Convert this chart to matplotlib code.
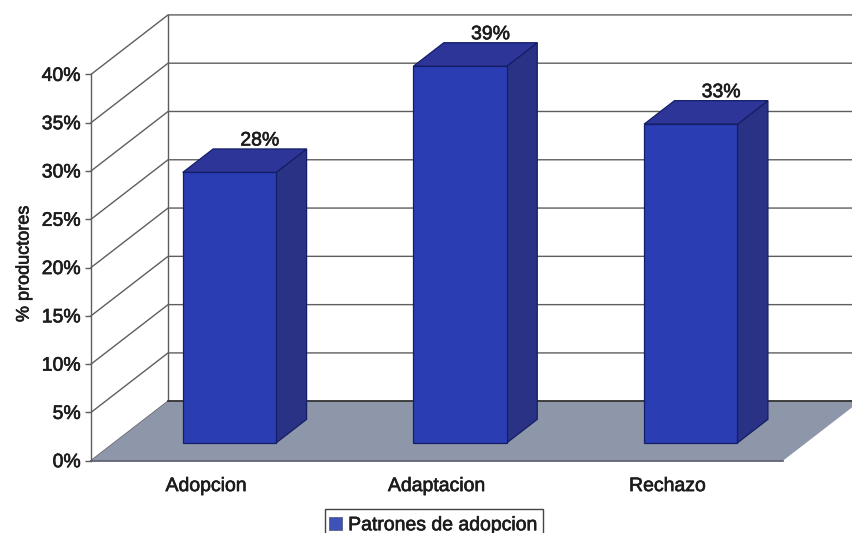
import matplotlib
matplotlib.use("Agg")
import matplotlib.pyplot as plt
import matplotlib.patheffects as pe
from matplotlib.patches import Polygon, Rectangle

plt.rcParams['font.family'] = ['Liberation Sans', 'DejaVu Sans']

# Data
categories = ["Adopcion", "Adaptacion", "Rechazo"]
values = [28, 39, 33]
y_ticks = [0, 5, 10, 15, 20, 25, 30, 35, 40]
y_tick_labels = ["0%", "5%", "10%", "15%", "20%", "25%", "30%", "35%", "40%"]
y_label = "% productores"
legend_label = "Patrones de adopcion"

# Oblique projection: how far the back wall sits from the front plane, in data units
WALL_DX = 0.334
WALL_DY = 6.16
BAR_WIDTH = 0.405
BAR_DEPTH_START = 0.30
BAR_DEPTH = 0.395

FRONT = "#2A3DB2"
TOP = "#2E3598"
SIDE = "#2A3285"
EDGE = "#141E66"
FLOOR = "#8E97A9"
GRID = "#5E5E5E"
TEXT = "#1C1C1C"
HEAVY = [pe.withStroke(linewidth=0.45, foreground=TEXT)]

W, H = 853, 533
fig = plt.figure(figsize=(W / 100, H / 100), dpi=100, facecolor="white")
ax = fig.add_axes([91 / W, (H - 460.7) / H, (783 - 91) / W, (460.7 - 74.4) / H])
ax.patch.set_visible(False)
ax.set_xlim(0, len(categories))
ax.set_ylim(0, 40)


def project(x, y, depth):
    return (x + depth * WALL_DX, y + depth * WALL_DY)


# Back wall and side wall rules
for t in y_ticks:
    ax.plot([0, WALL_DX, len(categories) + WALL_DX], [t, t + WALL_DY, t + WALL_DY],
            color=GRID, lw=1.0, clip_on=False, zorder=1)
ax.plot([WALL_DX, WALL_DX], [WALL_DY, 40 + WALL_DY], color=GRID, lw=1.0,
        clip_on=False, zorder=1)

# Floor
floor = Polygon([project(0, 0, 0), project(len(categories), 0, 0),
                 project(len(categories), 0, 1), project(0, 0, 1)],
                closed=True, facecolor=FLOOR, edgecolor="none", clip_on=False, zorder=2)
ax.add_patch(floor)
ax.plot([WALL_DX, len(categories) + WALL_DX], [WALL_DY, WALL_DY], color="#2E2E2E", lw=1.2,
        clip_on=False, zorder=2.5)

# Bars: side and top faces first, front face over them
value_texts = []
for i, v in enumerate(values):
    left = i + 0.5 - BAR_WIDTH / 2
    right = left + BAR_WIDTH
    d0 = BAR_DEPTH_START
    d1 = d0 + BAR_DEPTH
    style = dict(closed=True, edgecolor=EDGE, lw=0.9, clip_on=False, zorder=3)
    ax.add_patch(Polygon([project(right, 0, d0), project(right, 0, d1),
                          project(right, v, d1), project(right, v, d0)],
                         facecolor=SIDE, **style))
    ax.add_patch(Polygon([project(left, v, d0), project(right, v, d0),
                          project(right, v, d1), project(left, v, d1)],
                         facecolor=TOP, **style))
    ax.add_patch(Polygon([project(left, 0, d0), project(right, 0, d0),
                          project(right, v, d0), project(left, v, d0)],
                         facecolor=FRONT, **style))
    lx, ly = project(i + 0.5, v, d1)
    value_texts.append(ax.annotate(f"{v}%", (lx, ly), xytext=(0, 2.5),
                                   textcoords="offset points", ha="center", va="baseline",
                                   fontsize=14, color=TEXT, annotation_clip=False, zorder=5))

# Axes furniture
for name in ("top", "right"):
    ax.spines[name].set_visible(False)
ax.spines["left"].set_color(GRID)
ax.spines["left"].set_linewidth(1.0)
ax.spines["bottom"].set_color("#55596A")
ax.spines["bottom"].set_linewidth(1.2)
ax.spines["bottom"].set_zorder(2.6)

ax.set_yticks(y_ticks)
ax.set_yticklabels(y_tick_labels, fontsize=14, color=TEXT)
ax.tick_params(axis="y", length=4.3, width=1.0, color=GRID, pad=3)
ax.set_xticks([i + 0.5 for i in range(len(categories))])
ax.set_xticklabels(categories, fontsize=14, color=TEXT)
ax.tick_params(axis="x", length=0, pad=12.5)

y_title = fig.text(24 / W, (H - 264) / H, y_label, rotation=90, ha="center", va="center",
                   fontsize=13, color=TEXT)

# Legend frame runs off the lower edge of the figure
fig.add_artist(Rectangle((325 / W, (H - 545) / H), 218 / W, 36 / H,
                         transform=fig.transFigure, facecolor="white",
                         edgecolor="#444444", lw=1.0, zorder=4))
handle = Rectangle((0, 0), 1, 1, facecolor="#3F52B8", edgecolor="#5A5F80", lw=0.6)
legend = fig.legend([handle], [legend_label], loc="center",
                    bbox_to_anchor=(434 / W, (H - 525.5) / H), bbox_transform=fig.transFigure,
                    fontsize=14, frameon=False, handlelength=0.68, handleheight=0.68,
                    handletextpad=0.3, borderpad=0.32, borderaxespad=0, labelcolor=TEXT)
legend.set_zorder(5)

for t in (value_texts + ax.get_xticklabels() + ax.get_yticklabels()
          + legend.get_texts() + [y_title]):
    t.set_path_effects(HEAVY)

fig.savefig("out.png", dpi=100, facecolor="white")
